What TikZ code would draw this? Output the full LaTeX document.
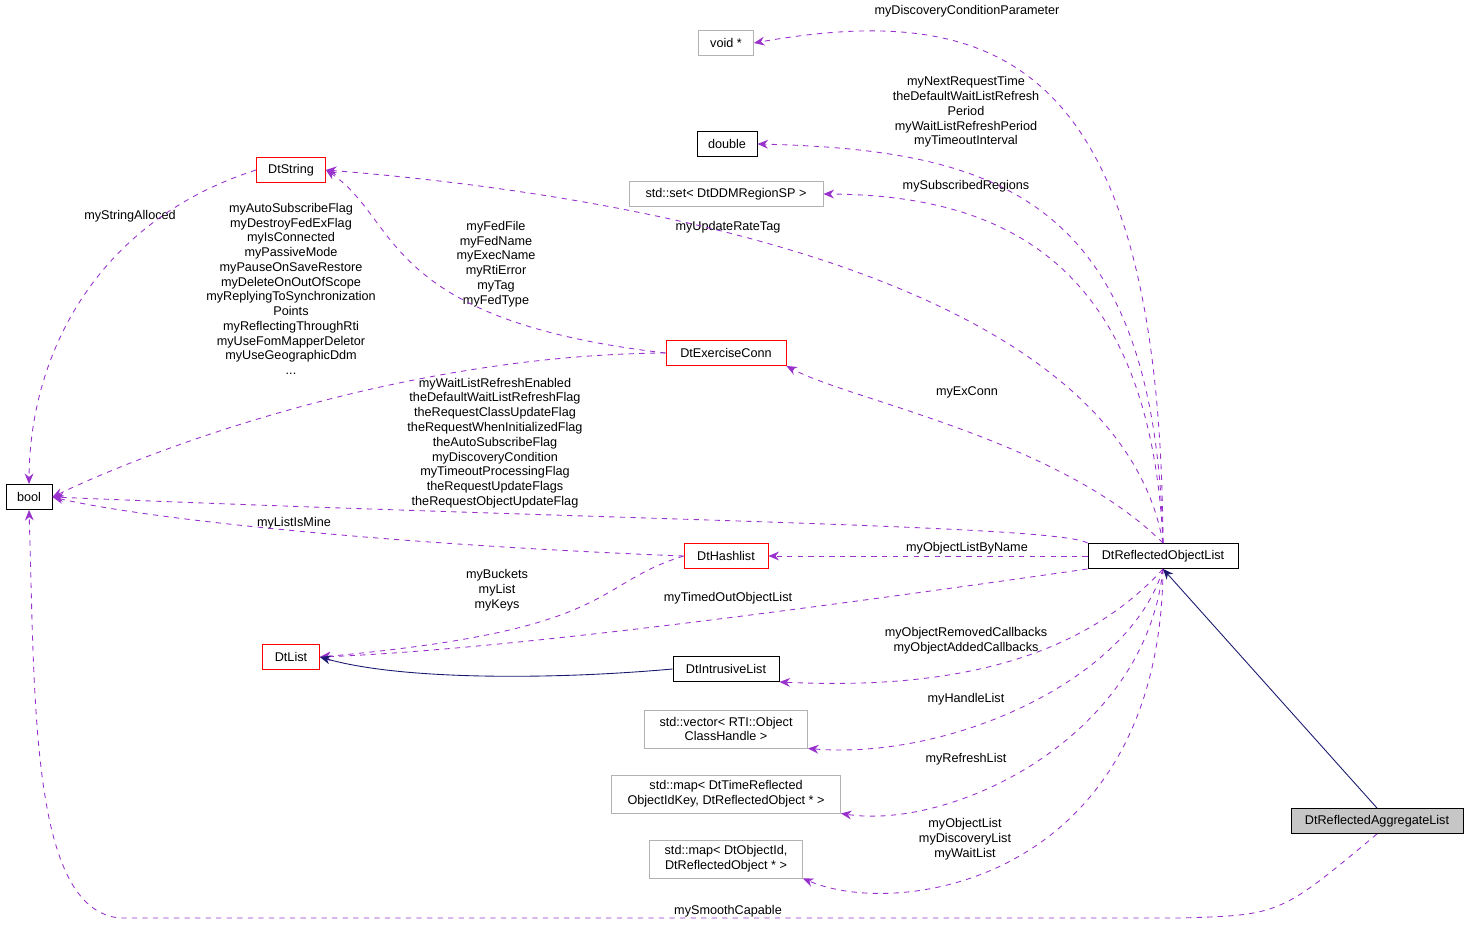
\documentclass[tikz,border=0pt]{standalone}
\usepackage{fontspec}
\setmainfont{Liberation Sans}
\usepackage{tikz}
\usetikzlibrary{arrows.meta}
\definecolor{edgePurple}{RGB}{153,50,204}
\definecolor{edgeNavy}{RGB}{25,25,112}
\tikzset{
    tsFont/.style = {font=\fontsize{7.2}{8.4}\selectfont, align=center, inner sep=1pt},
    tsBox/.style = {tsFont, rectangle, draw=black, fill=white, inner sep=3pt, line width=0.5pt},
    tsRed/.style = {tsBox, draw=red},
    tsGray/.style = {tsBox, draw=gray!60},
    tsUse/.style = {draw=edgePurple, dashed, line width=0.5pt, -{Stealth[length=6pt,width=5pt]}},
    tsInherit/.style = {draw=edgeNavy, line width=0.5pt, -{Stealth[length=6pt,width=5pt]}},
    tsLabel/.style = {tsFont}
}
\begin{document}
\begin{tikzpicture}[x=0.02cm, y=-0.02cm]
    \useasboundingbox (0,0) rectangle (1469,925);

    % classes
    \node[tsGray, minimum width=1.1cm, minimum height=0.5cm] (voidptr) at (726,43) {void *};
    \node[tsBox, minimum width=1.2cm, minimum height=0.5cm] (double) at (727,144) {double};
    \node[tsGray, minimum width=3.88cm, minimum height=0.5cm] (regset) at (726,194) {std::set< DtDDMRegionSP >};
    \node[tsRed, minimum width=1.38cm, minimum height=0.5cm] (dtstring) at (291,170) {DtString};
    \node[tsRed, minimum width=2.4cm, minimum height=0.5cm] (exconn) at (726,353) {DtExerciseConn};
    \node[tsBox, minimum width=0.92cm, minimum height=0.5cm] (bool) at (29,497) {bool};
    \node[tsRed, minimum width=1.68cm, minimum height=0.5cm] (hashlist) at (726,556) {DtHashlist};
    \node[tsBox, minimum width=3cm, minimum height=0.5cm] (objlist) at (1163,556) {DtReflectedObjectList};
    \node[tsRed, minimum width=1.14cm, minimum height=0.5cm] (dtlist) at (291,657) {DtList};
    \node[tsBox, minimum width=2.12cm, minimum height=0.5cm] (intrusive) at (726,669) {DtIntrusiveList};
    \node[tsGray, minimum width=3.26cm, minimum height=0.76cm] (handlevec) at (726,729) {std::vector< RTI::Object\\ClassHandle >};
    \node[tsGray, minimum width=4.58cm, minimum height=0.76cm] (timemap) at (726,794) {std::map< DtTimeReflected\\ObjectIdKey, DtReflectedObject * >};
    \node[tsGray, minimum width=3.06cm, minimum height=0.76cm] (idmap) at (726,859) {std::map< DtObjectId,\\DtReflectedObject * >};
    \node[tsBox, fill=gray!45, minimum width=3.44cm, minimum height=0.5cm] (aggregate) at (1377,821) {DtReflectedAggregateList};

    % connector labels
    \node[tsLabel] (lblVoid) at (967,11) {myDiscoveryConditionParameter};
    \node[tsLabel] (lblDouble) at (966,112) {myNextRequestTime\\theDefaultWaitListRefresh\\Period\\myWaitListRefreshPeriod\\myTimeoutInterval};
    \node[tsLabel] (lblSet) at (966,186) {mySubscribedRegions};
    \node[tsLabel] (lblRate) at (728,227) {myUpdateRateTag};
    \node[tsLabel] (lblExConn) at (967,392) {myExConn};
    \node[tsLabel] (lblFlags) at (495,443) {myWaitListRefreshEnabled\\theDefaultWaitListRefreshFlag\\theRequestClassUpdateFlag\\theRequestWhenInitializedFlag\\theAutoSubscribeFlag\\myDiscoveryCondition\\myTimeoutProcessingFlag\\theRequestUpdateFlags\\theRequestObjectUpdateFlag};
    \node[tsLabel] (lblByName) at (967,548) {myObjectListByName};
    \node[tsLabel] (lblTimedOut) at (728,598) {myTimedOutObjectList};
    \node[tsLabel] (lblCallbacks) at (966,641) {myObjectRemovedCallbacks\\myObjectAddedCallbacks};
    \node[tsLabel] (lblHandle) at (966,699) {myHandleList};
    \node[tsLabel] (lblRefresh) at (966,759) {myRefreshList};
    \node[tsLabel] (lblObjList) at (965,839) {myObjectList\\myDiscoveryList\\myWaitList};
    \node[tsLabel] (lblFed) at (496,264) {myFedFile\\myFedName\\myExecName\\myRtiError\\myTag\\myFedType};
    \node[tsLabel] (lblConnFlags) at (291,289) {myAutoSubscribeFlag\\myDestroyFedExFlag\\myIsConnected\\myPassiveMode\\myPauseOnSaveRestore\\myDeleteOnOutOfScope\\myReplyingToSynchronization\\Points\\myReflectingThroughRti\\myUseFomMapperDeletor\\myUseGeographicDdm\\...};
    \node[tsLabel] (lblAlloced) at (130,216) {myStringAlloced};
    \node[tsLabel] (lblMine) at (294,523) {myListIsMine};
    \node[tsLabel] (lblBuckets) at (497,590) {myBuckets\\myList\\myKeys};
    \node[tsLabel] (lblSmooth) at (728,911) {mySmoothCapable};

    % members of DtReflectedObjectList
    \draw[tsUse] (objlist.north) .. controls (1160,60) and (1000,0) .. (voidptr.east);
    \draw[tsUse] (objlist.north) .. controls (1155,200) and (1000,150) .. (double.east);
    \draw[tsUse] (objlist.north) .. controls (1150,260) and (1000,195) .. (regset.east);
    \draw[tsUse] (objlist.north) .. controls (1120,300) and (700,200) .. (dtstring.east);
    \draw[tsUse] (objlist.north) .. controls (1060,440) and (850,400) .. (exconn.south east);
    \draw[tsUse] (objlist.north west) .. controls (1060,525) and (600,520) .. (bool.east);
    \draw[tsUse] (objlist.west) -- (hashlist.east);
    \draw[tsUse] (objlist.south west) .. controls (800,610) and (500,650) .. (dtlist.east);
    \draw[tsUse] (objlist.south) .. controls (1080,660) and (950,690) .. (intrusive.south east);
    \draw[tsUse] (objlist.south) .. controls (1130,680) and (950,760) .. (handlevec.south east);
    \draw[tsUse] (objlist.south) .. controls (1145,740) and (950,830) .. (timemap.south east);
    \draw[tsUse] (objlist.south) .. controls (1160,880) and (900,920) .. (idmap.south east);

    % other members
    \draw[tsUse] (exconn.west) .. controls (380,320) and (400,220) .. (dtstring.east);
    \draw[tsUse] (exconn.west) .. controls (400,355) and (150,450) .. (bool.east);
    \draw[tsUse] (dtstring.west) .. controls (100,220) and (30,350) .. (bool.north);
    \draw[tsUse] (hashlist.west) .. controls (400,545) and (150,520) .. (bool.east);
    \draw[tsUse] (hashlist.west) .. controls (590,585) and (620,630) .. (dtlist.east);
    \draw[tsUse] (aggregate.south) .. controls (1280,915) .. (1180,918) -- (120,918) .. controls (30,910) and (35,700) .. (bool.south);

    % inheritance
    \draw[tsInherit] (intrusive.west) .. controls (550,680) and (400,680) .. (dtlist.east);
    \draw[tsInherit] (aggregate.north) -- (objlist.south);
\end{tikzpicture}
\end{document}
